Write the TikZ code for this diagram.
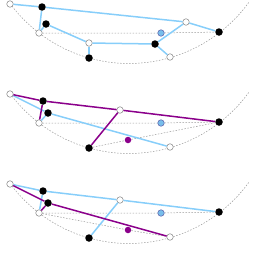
\documentclass[tikz,border=0pt]{standalone}
\definecolor{skyline}{RGB}{135,206,250}
\definecolor{magline}{RGB}{139,0,139}
\definecolor{skydot}{RGB}{120,190,235}
\begin{document}
\begin{tikzpicture}[x=1pt,y=1pt,
  guide/.style={dash pattern=on 1.5pt off 1.5pt,line width=0.5pt,gray!80},
  sky/.style={skyline,line width=1.5pt},
  mag/.style={magline,line width=1.5pt},
  hollow/.style={draw=gray,fill=white,circle,minimum size=6.5pt,inner sep=0pt,line width=0.5pt},
  full/.style={fill=black,circle,minimum size=7.5pt,inner sep=0pt},
  bluedot/.style={draw=gray!70!blue,fill=skydot,circle,minimum size=6.5pt,inner sep=0pt,line width=0.5pt},
  magdot/.style={fill=magline,circle,minimum size=6.5pt,inner sep=0pt}]
  \useasboundingbox (0,0) rectangle (252,-260);
  % the circle, once per panel
  \foreach \dy in {0,-90,-180}
    \draw[guide,yshift=\dy] (129,84.5) ++(216.6:148) arc[start angle=216.6,end angle=324,radius=148];

  % top panel
  \node[hollow] (a1) at (10,-4) {};
  \node[full] (b1) at (42,-7) {};
  \node[full] (c1) at (46,-24) {};
  \node[hollow] (d1) at (39,-33) {};
  \node[hollow] (e1) at (89,-43) {};
  \node[full] (f1) at (89,-58) {};
  \node[full] (g1) at (155,-44) {};
  \node[hollow] (h1) at (170,-57) {};
  \node[hollow] (i1) at (186,-22) {};
  \node[full] (j1) at (219,-32) {};
  \node[bluedot] (k1) at (161,-33) {};
  \draw[guide] (d1) -- (k1) -- (j1);
  \draw[sky] (a1) -- (b1) -- (i1) -- (j1);
  \draw[sky] (b1) -- (d1) -- (c1) -- (e1) -- (g1) -- (i1);
  \draw[sky] (e1) -- (f1);
  \draw[sky] (g1) -- (h1);

  % middle panel
  \begin{scope}[yshift=-90]
    \node[hollow] (a2) at (10,-4) {};
    \node[full] (b2) at (43,-11) {};
    \node[full] (c2) at (48,-23) {};
    \node[hollow] (d2) at (39,-33) {};
    \node[full] (f2) at (89,-58) {};
    \node[hollow] (h2) at (170,-57) {};
    \node[hollow] (i2) at (120,-20) {};
    \node[full] (j2) at (219,-32) {};
    \node[bluedot] (k2) at (161,-33) {};
    \node[magdot] (m2) at (128,-50) {};
    \draw[guide] (d2) -- (k2) -- (j2);
    \draw[guide] (f2) -- (m2) -- (j2);
    \draw[sky] (a2) -- (c2) -- (h2);
    \draw[sky] (c2) -- (d2);
    \draw[mag] (a2) -- (b2) -- (i2) -- (j2);
    \draw[mag] (b2) -- (d2);
    \draw[mag] (i2) -- (f2);
  \end{scope}

  % bottom panel
  \begin{scope}[yshift=-180]
    \node[hollow] (a3) at (10,-4) {};
    \node[full] (b3) at (43,-11) {};
    \node[full] (c3) at (48,-23) {};
    \node[hollow] (d3) at (39,-33) {};
    \node[full] (f3) at (89,-58) {};
    \node[hollow] (h3) at (170,-57) {};
    \node[hollow] (i3) at (120,-20) {};
    \node[full] (j3) at (219,-32) {};
    \node[bluedot] (k3) at (161,-33) {};
    \node[magdot] (m3) at (128,-50) {};
    \draw[guide] (d3) -- (k3) -- (j3);
    \draw[guide] (d3) -- (m3) -- (h3);
    \draw[sky] (a3) -- (b3) -- (i3) -- (j3);
    \draw[sky] (b3) -- (d3);
    \draw[sky] (i3) -- (f3);
    \draw[mag] (a3) -- (c3) -- (h3);
    \draw[mag] (c3) -- (d3);
  \end{scope}
\end{tikzpicture}
\end{document}
